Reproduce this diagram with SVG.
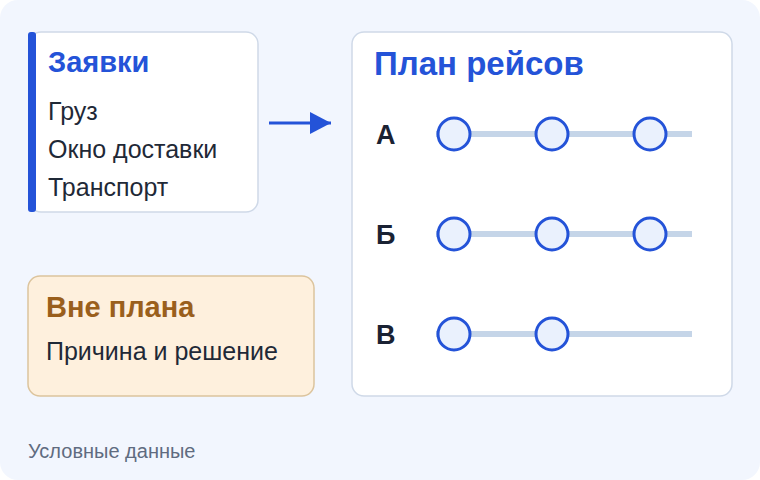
<svg xmlns="http://www.w3.org/2000/svg" width="760" height="480" viewBox="0 0 760 480">
<style>
text{font-family:"Liberation Sans",Arial,sans-serif}
.card{fill:#fff;stroke:#cfd9e8;stroke-width:1.5}
.t{font-size:25px;fill:#1f2937}
.h{font-size:29px;font-weight:bold;fill:#2453d8}
.lane{font-size:27px;font-weight:bold;fill:#1a2233}
.track{stroke:#c5d5e8;stroke-width:6}
.stop{fill:#eaf1fd;stroke:#2453d8;stroke-width:3}
</style>
<defs>
<marker id="ah2" markerWidth="22" markerHeight="22" refX="21" refY="11" orient="auto" markerUnits="userSpaceOnUse"><path d="M0,0 L21,11 L0,22 Z" fill="#2453d8"/></marker></defs>
<rect x="0" y="0" width="760" height="480" rx="18" fill="#f2f6fe"/>
<g id="requests">
<rect class="card" x="29" y="32" width="229" height="180" rx="12"/>
<rect x="28" y="32" width="8" height="180" rx="3" fill="#2453d8"/>
<text class="h" x="48" y="72">Заявки</text>
<text class="t" x="48" y="120">Груз</text>
<text class="t" x="48" y="158">Окно доставки</text>
<text class="t" x="48" y="196">Транспорт</text>
</g>
<g id="offplan">
<rect x="28" y="276" width="286" height="120" rx="12" fill="#fef0dd" stroke="#dcc49d" stroke-width="1.5"/>
<text x="46" y="317" font-size="29" font-weight="bold" fill="#9a5f1c">Вне плана</text>
<text class="t" x="46" y="360">Причина и решение</text>
</g>
<g id="connectors">
<line x1="269" y1="123" x2="331" y2="123" stroke="#2453d8" stroke-width="3" marker-end="url(#ah2)"/>
</g>
<g id="plan">
<rect class="card" x="352" y="32" width="380" height="364" rx="12"/>
<text class="h" x="374" y="75" style="font-size:33px">План рейсов</text>
<text class="lane" x="376" y="144">А</text>
<line class="track" x1="436" y1="134" x2="692" y2="134"/>
<circle class="stop" cx="454" cy="134" r="16"/><circle class="stop" cx="552" cy="134" r="16"/><circle class="stop" cx="650" cy="134" r="16"/>
<text class="lane" x="376" y="244">Б</text>
<line class="track" x1="436" y1="234" x2="692" y2="234"/>
<circle class="stop" cx="454" cy="234" r="16"/><circle class="stop" cx="552" cy="234" r="16"/><circle class="stop" cx="650" cy="234" r="16"/>
<text class="lane" x="376" y="344">В</text>
<line class="track" x1="436" y1="334" x2="692" y2="334"/>
<circle class="stop" cx="454" cy="334" r="16"/><circle class="stop" cx="552" cy="334" r="16"/>
</g>
<text x="28" y="458" font-size="20" fill="#5f6b80">Условные данные</text>
</svg>
